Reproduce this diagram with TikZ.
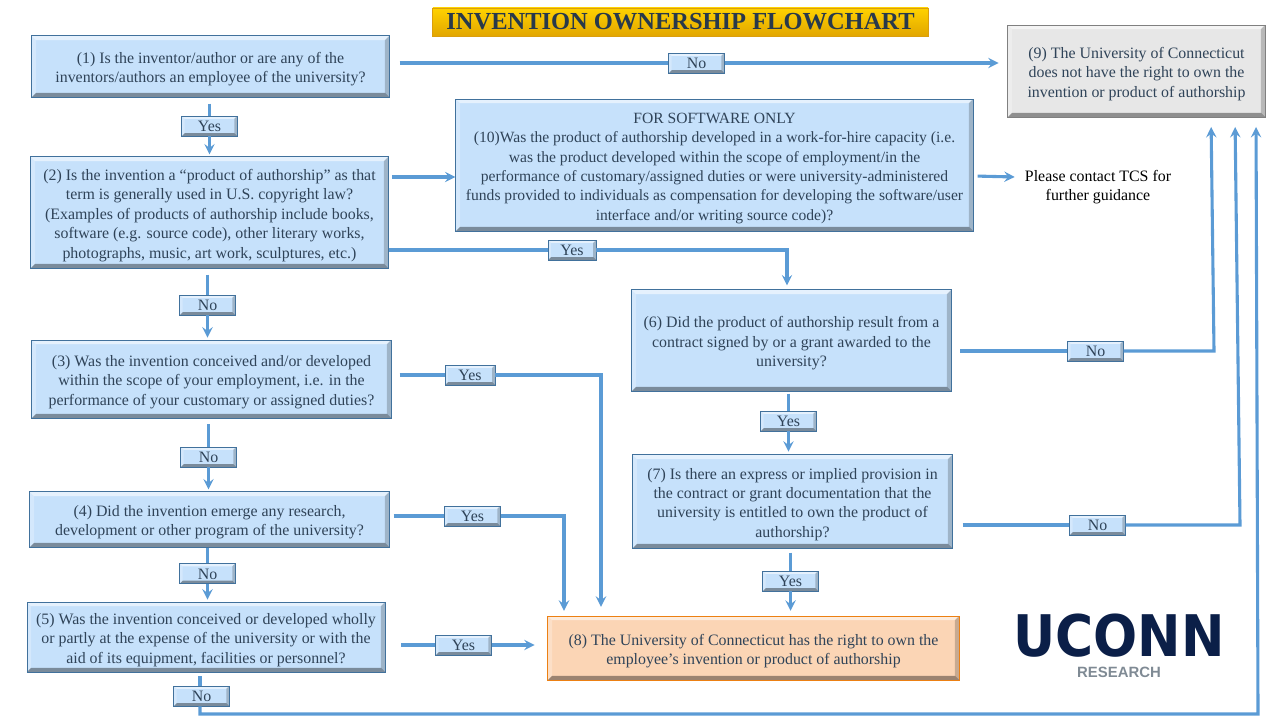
\documentclass[tikz,border=0pt]{standalone}
\usepackage{fontspec}
\setmainfont{Liberation Serif}
\newfontfamily\logofont{Liberation Sans}
\newfontfamily\markfont{DejaVu Sans}
\definecolor{boxblue}{HTML}{C6E1FB}
\definecolor{boxedge}{HTML}{41719C}
\definecolor{flowblue}{HTML}{5B9BD5}
\definecolor{inkblue}{HTML}{2F4358}
\definecolor{boxgray}{HTML}{E7E7E7}
\definecolor{boxorange}{HTML}{FBD5B5}
\definecolor{titletop}{HTML}{FFD200}
\definecolor{titlelow}{HTML}{E2A600}
\definecolor{logonavy}{HTML}{0B1F48}
\definecolor{logogray}{HTML}{7F8A94}
\newcommand{\topgap}{\rule{0pt}{12pt}}
\newcommand{\bevelfaces}[1]{%
	\fill[white,opacity=.55] (path picture bounding box.north west) -- (path picture bounding box.north east) -- ([xshift=-#1,yshift=-#1]path picture bounding box.north east) -- ([xshift=#1,yshift=-#1]path picture bounding box.north west) -- cycle;
	\fill[black,opacity=.38] (path picture bounding box.south west) -- (path picture bounding box.south east) -- ([xshift=-#1,yshift=#1]path picture bounding box.south east) -- ([xshift=#1,yshift=#1]path picture bounding box.south west) -- cycle;
	\fill[white,opacity=.25] (path picture bounding box.north west) -- (path picture bounding box.south west) -- ([xshift=#1,yshift=#1]path picture bounding box.south west) -- ([xshift=#1,yshift=-#1]path picture bounding box.north west) -- cycle;
	\fill[black,opacity=.2] (path picture bounding box.north east) -- (path picture bounding box.south east) -- ([xshift=-#1,yshift=#1]path picture bounding box.south east) -- ([xshift=-#1,yshift=-#1]path picture bounding box.north east) -- cycle;}
\tikzset{
	askbox/.style={draw=boxedge,line width=.6pt,fill=boxblue,align=center,inner sep=0pt,text=inkblue,font=\fontsize{11.3}{13.8}\selectfont,path picture={\bevelfaces{3pt}}},
	tagbox/.style={askbox,minimum width=1.38cm,minimum height=.5cm,execute at begin node={\rule{0pt}{8.5pt}},path picture={\bevelfaces{2pt}}},
	flow/.style={draw=flowblue,line width=2.2pt},
}
\begin{document}
\begin{tikzpicture}[>=stealth,x=.025cm,y=-.025cm]
	\useasboundingbox (0,0) rectangle (1280,720);
	% title
	\node[draw=titlelow!80!brown,line width=.6pt,top color=titletop,bottom color=titlelow,minimum width=12.38cm,minimum height=.7cm,inner sep=0pt,font=\fontsize{17.4}{18}\selectfont\bfseries,text=inkblue!85!black] (title) at (680.5,22) {INVENTION OWNERSHIP FLOWCHART};
	% question boxes
	\node[askbox,minimum width=8.93cm,minimum height=1.53cm] (q1) at (210.5,66.5) {\topgap(1) Is the inventor/author or are any of the\\inventors/authors an employee of the university?};
	\node[askbox,minimum width=8.93cm,minimum height=2.78cm] (q2) at (209.5,212.5) {\topgap(2) Is the invention a “product of authorship” as that\\term is generally used in U.S. copyright law?\\(Examples of products of authorship include books,\\software (e.g. source code), other literary works,\\photographs, music, art work, sculptures, etc.)};
	\node[askbox,minimum width=8.98cm,minimum height=1.95cm] (q3) at (211.5,379) {\topgap(3) Was the invention conceived and/or developed\\within the scope of your employment, i.e. in the\\performance of your customary or assigned duties?};
	\node[askbox,minimum width=8.98cm,minimum height=1.38cm] (q4) at (209.5,519.5) {\topgap(4) Did the invention emerge any research,\\development or other program of the university?};
	\node[askbox,minimum width=8.95cm,minimum height=1.75cm] (q5) at (206,637) {\topgap(5) Was the invention conceived or developed wholly\\or partly at the expense of the university or with the\\aid of its equipment, facilities or personnel?};
	\node[askbox,minimum width=12.93cm,minimum height=3.3cm,font=\fontsize{11.1}{13.8}\selectfont] (q10) at (714.5,165) {\topgap FOR SOFTWARE ONLY\\(10)Was the product of authorship developed in a work-for-hire capacity (i.e.\\was the product developed within the scope of employment/in the\\performance of customary/assigned duties or were university-administered\\funds provided to individuals as compensation for developing the software/user\\interface and/or writing source code)?};
	\node[askbox,minimum width=7.98cm,minimum height=2.53cm] (q6) at (791.5,340.5) {\topgap(6) Did the product of authorship result from a\\contract signed by or a grant awarded to the\\university?};
	\node[askbox,minimum width=7.98cm,minimum height=2.33cm] (q7) at (792.5,501.5) {\topgap(7) Is there an express or implied provision in\\the contract or grant documentation that the\\university is entitled to own the product of\\authorship?};
	\node[askbox,fill=boxorange,draw=orange!70!brown,minimum width=10.28cm,minimum height=1.6cm] (q8) at (753.5,648) {\topgap(8) The University of Connecticut has the right to own the\\employee’s invention or product of authorship};
	\node[askbox,fill=boxgray,draw=gray,minimum width=6.43cm,minimum height=2.3cm] (q9) at (1136.5,71) {\topgap(9) The University of Connecticut\\does not have the right to own the\\invention or product of authorship};
	\node[align=center,inner xsep=.25cm,inner ysep=0pt,font=\fontsize{11.3}{13.8}\selectfont] (contact) at (1098,187) {Please contact TCS for\\further guidance};
	% yes and no tags
	\node[tagbox] (yes12) at (209.5,126) {Yes};
	\node[tagbox] (no19) at (696.5,63) {No};
	\node[tagbox,minimum width=1.2cm] (yes26) at (572,250) {Yes};
	\node[tagbox] (no23) at (207.5,305) {No};
	\node[tagbox,minimum width=1.25cm] (yes38) at (470,375) {Yes};
	\node[tagbox] (no34) at (208.5,457) {No};
	\node[tagbox] (yes48) at (472.5,516) {Yes};
	\node[tagbox] (no45) at (207.5,573.5) {No};
	\node[tagbox] (yes58) at (463.5,645) {Yes};
	\node[tagbox] (no5) at (201.5,696) {No};
	\node[tagbox] (yes67) at (788.5,421) {Yes};
	\node[tagbox] (yes78) at (790.5,581) {Yes};
	\node[tagbox] (no69) at (1095.5,351) {No};
	\node[tagbox] (no79) at (1097.5,525) {No};
	% corners of the long connectors
	\coordinate (bendA) at (787,250);
	\coordinate (bendB) at (601,375);
	\coordinate (bendC) at (564,516);
	\coordinate (bendD) at (1214,351);
	\coordinate (bendE) at (1240,525);
	\coordinate (bendF) at (200,714);
	\coordinate (bendG) at (1258,714);
	\coordinate (endD) at (1211,117);
	\coordinate (endE) at (1235,117);
	\coordinate (endF) at (1256,117);
	% connectors
	\draw[flow,shorten <=.25cm] (q1.east |- no19) -- (no19);
	\draw[flow,->,shorten >=.22cm] (no19) -- (q9.west |- no19);
	\draw[flow,shorten <=.15cm] (q1.south -| yes12) -- (yes12);
	\draw[flow,->,shorten >=.05cm] (yes12) -- (yes12 |- q2.north);
	\draw[flow,->,shorten <=.08cm] (q2.east |- 0,177) -- (q10.west |- 0,177);
	\draw[flow,->,shorten <=.1cm] (q10.east |- 0,176) -- ([yshift=.25cm]contact.west);
	\draw[flow] (q2.east |- yes26) -- (yes26);
	\draw[flow,->,shorten >=.1cm] (yes26) -- (bendA) -- (bendA |- q6.north);
	\draw[flow,shorten <=.15cm] (q2.south -| no23) -- (no23);
	\draw[flow,->,shorten >=.05cm] (no23) -- (no23 |- q3.north);
	\draw[flow,shorten <=.15cm] (q3.south -| no34) -- (no34);
	\draw[flow,->,shorten >=.05cm] (no34) -- (no34 |- q4.north);
	\draw[flow] (q4.south -| no45) -- (no45);
	\draw[flow,->,shorten >=.05cm] (no45) -- (no45 |- q5.north);
	\draw[flow,shorten <=.1cm] (q5.south -| bendF) -- (no5.north -| bendF);
	\draw[flow,->,shorten >=.25cm] (no5.south -| bendF) -- (bendF) -- (bendG) -- (endF);
	\draw[flow,shorten <=.2cm] (q3.east |- yes38) -- (yes38);
	\draw[flow,->,shorten >=.22cm] (yes38) -- (bendB) -- (bendB |- q8.north);
	\draw[flow,shorten <=.1cm] (q4.east |- yes48) -- (yes48);
	\draw[flow,->,shorten >=.12cm] (yes48) -- (bendC) -- (bendC |- q8.north);
	\draw[flow,shorten <=.4cm] (q5.east |- yes58) -- (yes58);
	\draw[flow,->,shorten >=.32cm] (yes58) -- (q8.west |- yes58);
	\draw[flow,shorten <=.05cm] (q6.south -| yes67) -- (yes67);
	\draw[flow,->,shorten >=.07cm] (yes67) -- (yes67 |- q7.north);
	\draw[flow,shorten <=.1cm] (q7.south -| yes78) -- (yes78);
	\draw[flow,->,shorten >=.12cm] (yes78) -- (yes78 |- q8.north);
	\draw[flow,shorten <=.22cm] (q6.east |- no69) -- (no69);
	\draw[flow,->,shorten >=.25cm] (no69) -- (bendD) -- (endD);
	\draw[flow,shorten <=.25cm] (q7.east |- no79) -- (no79);
	\draw[flow,->,shorten >=.25cm] (no79) -- (bendE) -- (endE);
	% logo
	\node[inner sep=0pt,text=logonavy,font=\markfont\bfseries\fontsize{40.8}{41}\selectfont] (logo) at (1119,636) {\scalebox{.905}[1]{UCONN}};
	\node[inner sep=0pt,text=logogray,font=\logofont\bfseries\fontsize{10.6}{12}\selectfont] (research) at (1119,672.5) {RESEARCH};
\end{tikzpicture}
\end{document}
